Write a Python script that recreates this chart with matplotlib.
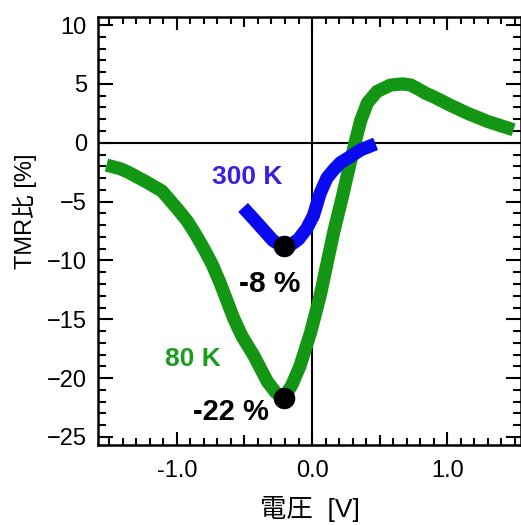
import numpy as np
import matplotlib
matplotlib.use("Agg")
import matplotlib.pyplot as plt
from matplotlib.ticker import MultipleLocator, FixedLocator

plt.rcParams['font.family'] = ['Liberation Sans', 'Noto Sans CJK JP', 'DejaVu Sans']

# 80 K curve
v80 = [-1.52, -1.42, -1.36, -1.23, -1.11, -0.99, -0.92, -0.86, -0.80, -0.74, -0.68, -0.62, -0.58,
       -0.52, -0.43, -0.33, -0.27, -0.21, -0.15, -0.09, -0.01, 0.06, 0.11, 0.16, 0.22, 0.27, 0.32,
       0.36, 0.41, 0.48, 0.58, 0.67, 0.73, 0.78, 0.84, 0.90, 1.02, 1.15, 1.30, 1.49]
tmr80 = [-1.9, -2.2, -2.5, -3.3, -4.1, -5.7, -6.7, -7.8, -9.0, -10.3, -11.9, -13.7, -14.9,
         -16.4, -18.1, -20.3, -21.2, -21.7, -20.6, -19.0, -16.1, -13.0, -10.3, -7.6, -4.8, -2.3, 0.1,
         1.9, 3.4, 4.35, 4.9, 5.0, 4.9, 4.6, 4.2, 3.9, 3.2, 2.5, 1.8, 1.1]

# 300 K curve
v300 = [-0.51, -0.43, -0.36, -0.29, -0.22, -0.16, -0.10, -0.04, 0.01, 0.06, 0.11, 0.16, 0.21, 0.28, 0.36, 0.47]
tmr300 = [-5.5, -6.5, -7.4, -8.3, -8.8, -8.7, -8.2, -7.3, -6.2, -4.3, -3.0, -2.3, -1.7, -1.2, -0.6, -0.1]

# minima markers
min_v = [-0.21, -0.21]
min_tmr = [-21.7, -8.8]

green = '#139613'
blue = '#0a0af0'

fig = plt.figure(figsize=(5.21, 5.25), dpi=100)
ax = fig.add_axes([0.188, 0.152, 0.812, 0.816])

ax.axhline(0, color='black', lw=1.5, zorder=1)
ax.axvline(0, color='black', lw=1.5, zorder=1)

ax.plot(v80, tmr80, color=green, lw=9.5, solid_capstyle='butt', solid_joinstyle='round', zorder=2)
ax.plot(v300, tmr300, color=blue, lw=9.5, solid_capstyle='butt', solid_joinstyle='round', zorder=3)
ax.plot(min_v, min_tmr, 'o', color='black', ms=14.5, zorder=4)

ax.text(-0.48, -2.9, '300 K', color='#3a1fe3', fontsize=19, fontweight='bold', ha='center', va='center')
ax.text(-0.88, -18.4, '80 K', color='#1c9c1c', fontsize=19, fontweight='bold', ha='center', va='center')
ax.text(-0.31, -12.0, '-8 %', color='black', fontsize=21.5, fontweight='bold', ha='center', va='center')
ax.text(-0.60, -22.9, '-22 %', color='black', fontsize=21, fontweight='bold', ha='center', va='center')

ax.set_xlim(-1.583, 1.545)
ax.set_ylim(-25.7, 10.7)

ax.xaxis.set_major_locator(FixedLocator([-1.0, 0.0, 1.0]))
ax.set_xticklabels(['-1.0', '0.0', '1.0'])
ax.xaxis.set_minor_locator(MultipleLocator(0.1))
ax.yaxis.set_major_locator(MultipleLocator(5))
ax.yaxis.set_minor_locator(MultipleLocator(1))

ax.tick_params(which='both', direction='in', top=True, right=True, width=1.5, labelsize=17, pad=8)
ax.tick_params(axis='x', which='major', length=9.5, pad=11)
ax.tick_params(axis='x', which='minor', length=5)
ax.tick_params(axis='y', which='major', length=11)
ax.tick_params(axis='y', which='minor', length=6)

for sp in ax.spines.values():
    sp.set_linewidth(1.8)

ax.set_xlabel('電圧  [V]', fontsize=19, labelpad=10)
ax.set_ylabel('TMR比 [%]', fontsize=17)
ax.yaxis.set_label_coords(-0.144, 0.545)

# medium ticks at the half volts
fig.canvas.draw()
locs = ax.xaxis.get_minorticklocs()
for loc, t in zip(locs, ax.xaxis.get_minor_ticks(len(locs))):
    if abs(abs(loc) - 0.5) < 1e-6:
        t.tick1line.set_markersize(7)
        t.tick2line.set_markersize(7)

fig.savefig('out.png', dpi=100)
